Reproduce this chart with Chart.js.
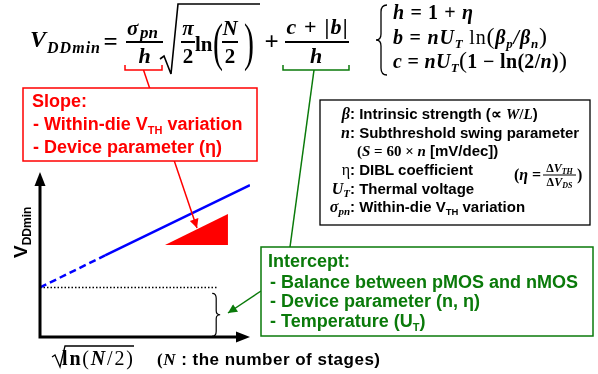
<!DOCTYPE html>
<html lang="en">
<head>
<meta charset="UTF-8">
<title>VDDmin vs sqrt(ln(N/2))</title>
<script src="https://cdn.jsdelivr.net/npm/chart.js"></script>
<style>
  body { margin: 0; background: #fff; }
  #wrap { position: relative; width: 598px; height: 374px; }
  #plot { position: absolute; left: 0; top: 0; }
  #notes { position: absolute; left: 0; top: 0; }
  .mi { font-family: "Liberation Serif", serif; font-weight: bold; font-style: italic; }
  .mr { font-family: "Liberation Serif", serif; font-weight: bold; font-style: normal; }
  .mn { font-family: "Liberation Serif", serif; font-weight: normal; font-style: normal; }
  .s  { font-family: "Liberation Sans", Arial, sans-serif; font-weight: bold; font-style: normal; }
</style>
</head>
<body>
<div id="wrap">
  <canvas id="plot" width="598" height="374"></canvas>

  <svg id="notes" width="598" height="374" xmlns="http://www.w3.org/2000/svg">
    <defs>
      <marker id="headR" viewBox="0 0 10 10" refX="10" refY="5" markerWidth="12" markerHeight="9" orient="auto" markerUnits="userSpaceOnUse">
        <path d="M0,0 L10,5 L0,10 z" fill="#ff0000"/>
      </marker>
      <marker id="headG" viewBox="0 0 10 10" refX="10" refY="5" markerWidth="12" markerHeight="9" orient="auto" markerUnits="userSpaceOnUse">
        <path d="M0,0 L10,5 L0,10 z" fill="#0a7a0a"/>
      </marker>
    </defs>

    <!-- main formula -->
    <text class="mi" x="30" y="47" font-size="24">V</text>
    <text class="mi" x="47" y="53" font-size="16" textLength="53">DDmin</text>
    <text class="mr" x="110.5" y="50" font-size="25" text-anchor="middle">=</text>
    <text class="mi" x="127" y="35" font-size="21">σ</text>
    <text class="mi" x="140" y="38" font-size="17">pn</text>
    <line x1="126" y1="42" x2="163" y2="42" stroke="#000" stroke-width="2"/>
    <text class="mi" x="144.5" y="63" font-size="22" text-anchor="middle">h</text>
    <path d="M160,59 L164,56 L171,74 L178,4 L260,4" fill="none" stroke="#000" stroke-width="1.6"/>
    <text class="mi" x="188" y="35" font-size="21" text-anchor="middle">π</text>
    <line x1="181" y1="42" x2="195" y2="42" stroke="#000" stroke-width="2"/>
    <text class="mr" x="188" y="63" font-size="21" text-anchor="middle">2</text>
    <text class="mr" x="195" y="51" font-size="21">ln</text>
    <text class="mn" font-size="30" transform="translate(213,60) scale(1,1.75)">(</text>
    <text class="mi" x="230" y="35" font-size="21" text-anchor="middle">N</text>
    <line x1="222" y1="42" x2="238" y2="42" stroke="#000" stroke-width="2"/>
    <text class="mr" x="230" y="63" font-size="21" text-anchor="middle">2</text>
    <text class="mn" font-size="30" transform="translate(244,60) scale(1,1.75)">)</text>
    <text class="mr" x="271.5" y="50" font-size="25" text-anchor="middle">+</text>
    <text class="mi" x="317" y="34" font-size="22" text-anchor="middle" textLength="61">c <tspan class="mr">+ |</tspan>b<tspan class="mr">|</tspan></text>
    <line x1="285" y1="42" x2="349" y2="42" stroke="#000" stroke-width="2"/>
    <text class="mi" x="316" y="63" font-size="22" text-anchor="middle">h</text>

    <!-- definitions of h, b, c -->
    <path d="M387,5 Q381,5 381,12 L381,34 Q381,40 376,40 Q381,40 381,46 L381,68 Q381,75 387,75" fill="none" stroke="#000" stroke-width="1.3"/>
    <text class="mi" x="393" y="19" font-size="20" textLength="80">h <tspan class="mr">= 1 +</tspan> η</text>
    <text class="mi" x="393" y="44" font-size="20" textLength="154">b <tspan class="mr">=</tspan> nU<tspan font-size="13" dy="4">T</tspan><tspan class="mn" dy="-4"> ln</tspan><tspan class="mn" font-size="24">(</tspan>β<tspan font-size="13" dy="4">p</tspan><tspan dy="-4">/β</tspan><tspan font-size="13" dy="4">n</tspan><tspan class="mn" font-size="24" dy="-4">)</tspan></text>
    <text class="mi" x="393" y="68" font-size="20" textLength="174">c <tspan class="mr">=</tspan> nU<tspan font-size="13" dy="4">T</tspan><tspan class="mn" font-size="24" dy="-4">(</tspan><tspan class="mr">1 − ln(2/</tspan>n<tspan class="mr">)</tspan><tspan class="mn" font-size="24">)</tspan></text>

    <!-- brackets and connectors -->
    <path d="M125,65 V70 H162 V65" fill="none" stroke="#ff0000" stroke-width="1.5"/>
    <line x1="143.5" y1="70" x2="197" y2="228" stroke="#ff0000" stroke-width="1.5" marker-end="url(#headR)"/>
    <path d="M283,65 V70 H349 V65" fill="none" stroke="#0a7a0a" stroke-width="1.5"/>
    <line x1="314" y1="70" x2="290" y2="247" stroke="#0a7a0a" stroke-width="1.5"/>
    <line x1="261" y1="291" x2="228" y2="313" stroke="#0a7a0a" stroke-width="1.5" marker-end="url(#headG)"/>

    <!-- slope box -->
    <rect x="23" y="88" width="234" height="73" fill="#fff" stroke="#ff0000" stroke-width="1.5"/>
    <text class="s" x="32" y="107" font-size="18" fill="#ff0000">Slope:</text>
    <text class="s" x="33" y="130" font-size="18" fill="#ff0000">- Within-die V<tspan font-size="11" dy="4">TH</tspan><tspan dy="-4"> variation</tspan></text>
    <text class="s" x="33" y="153" font-size="18" fill="#ff0000">- Device parameter (η)</text>

    <!-- symbol box -->
    <rect x="320" y="100" width="270" height="125" fill="#fff" stroke="#000" stroke-width="1.3"/>
    <text class="mi" x="350" y="119" font-size="16" text-anchor="end">β</text>
    <text class="s" x="350" y="119" font-size="15">: Intrinsic strength (<tspan class="mr">∝</tspan> <tspan class="mi">W</tspan><tspan class="mr">/</tspan><tspan class="mi">L</tspan>)</text>
    <text class="mi" x="350" y="138" font-size="16" text-anchor="end">n</text>
    <text class="s" x="350" y="138" font-size="15">: Subthreshold swing parameter</text>
    <text class="s" x="357" y="156" font-size="15"><tspan class="mr">(</tspan><tspan class="mi">S</tspan><tspan class="mr"> = 60 × </tspan><tspan class="mi">n</tspan> [mV/dec])</text>
    <text class="mn" x="350" y="175" font-size="16" text-anchor="end">η</text>
    <text class="s" x="350" y="175" font-size="15">: DIBL coefficient</text>
    <text class="mi" x="514" y="180" font-size="16"><tspan class="mr">(</tspan>η <tspan class="mr">=</tspan></text>
    <text class="mi" x="559.5" y="172" font-size="12" text-anchor="middle"><tspan class="mr">Δ</tspan>V<tspan font-size="8" dy="2">TH</tspan></text>
    <line x1="543" y1="175" x2="576" y2="175" stroke="#000" stroke-width="1"/>
    <text class="mi" x="559.5" y="186" font-size="12" text-anchor="middle"><tspan class="mr">Δ</tspan>V<tspan font-size="8" dy="2">DS</tspan></text>
    <text class="mr" x="577" y="180" font-size="16">)</text>
    <text class="mi" x="350" y="194" font-size="16" text-anchor="end">U<tspan font-size="11" dy="3">T</tspan></text>
    <text class="s" x="350" y="194" font-size="15">: Thermal voltage</text>
    <text class="mi" x="350" y="212" font-size="16" text-anchor="end">σ<tspan font-size="11" dy="3">pn</tspan></text>
    <text class="s" x="350" y="212" font-size="15">: Within-die V<tspan font-size="9.5" dy="3">TH</tspan><tspan dy="-3"> variation</tspan></text>

    <!-- intercept box -->
    <rect x="261" y="247" width="332" height="89" fill="#fff" stroke="#0a7a0a" stroke-width="1.5"/>
    <text class="s" x="268" y="267" font-size="18" fill="#0a7a0a">Intercept:</text>
    <text class="s" x="270" y="288" font-size="18" fill="#0a7a0a">- Balance between pMOS and nMOS</text>
    <text class="s" x="270" y="307" font-size="18" fill="#0a7a0a">- Device parameter (n, η)</text>
    <text class="s" x="270" y="327" font-size="18" fill="#0a7a0a">- Temperature (U<tspan font-size="11" dy="4">T</tspan><tspan dy="-4">)</tspan></text>

    <!-- axis labels -->
    <text class="s" font-size="19" transform="translate(27,258) rotate(-90)">V<tspan font-size="12" dy="4">DDmin</tspan></text>
    <path d="M52,357 L55,355 L60,367 L65,346 L134,346" fill="none" stroke="#000" stroke-width="1.3"/>
    <text class="mr" x="62" y="365" font-size="20" textLength="71">ln<tspan class="mn">(</tspan><tspan class="mi">N</tspan><tspan class="mn">/2)</tspan></text>
    <text class="s" x="157" y="365" font-size="17" textLength="223"><tspan class="mr">(</tspan><tspan class="mi">N</tspan> : the number of stages)</text>
  </svg>
</div>

<script>
  // plot in arbitrary units: x = sqrt(ln(N/2)), y = VDDmin, both 0..10
  const xRange = [0, 10];
  const yRange = [0, 10];

  // extrapolated part of the line (dashed) and the measured part (solid)
  const extrapX = [0, 3.1];
  const extrapY = [3.0, 4.95];
  const lineX = [3.1, 10];
  const lineY = [4.95, 9.2];

  // dotted intercept level
  const levelX = [0, 8.5];
  const levelY = [3.0, 3.0];

  // red slope triangle (hypotenuse)
  const slopeX = [5.95, 8.95];
  const slopeY = [5.58, 7.45];

  // curly brace marking the intercept
  const braceX = 8.2;
  const braceY = [0.05, 2.65];

  function pts(xs, ys) {
    return xs.map((x, i) => ({ x: x, y: ys[i] }));
  }

  // arrows for both axes and the brace
  const axesPlugin = {
    id: 'axes',
    afterDatasetsDraw(chart) {
      const { ctx, chartArea: a, scales } = chart;
      ctx.save();
      ctx.strokeStyle = '#000';
      ctx.fillStyle = '#000';
      ctx.lineWidth = 3;
      ctx.lineJoin = 'miter';
      ctx.beginPath();
      ctx.moveTo(a.left, a.top + 12);
      ctx.lineTo(a.left, a.bottom);
      ctx.lineTo(a.right - 12, a.bottom);
      ctx.stroke();

      ctx.beginPath();
      ctx.moveTo(a.left, a.top);
      ctx.lineTo(a.left - 5.5, a.top + 14);
      ctx.lineTo(a.left + 5.5, a.top + 14);
      ctx.closePath();
      ctx.fill();

      ctx.beginPath();
      ctx.moveTo(a.right, a.bottom);
      ctx.lineTo(a.right - 14, a.bottom - 5.5);
      ctx.lineTo(a.right - 14, a.bottom + 5.5);
      ctx.closePath();
      ctx.fill();

      const bx = scales.x.getPixelForValue(braceX);
      const top = scales.y.getPixelForValue(braceY[1]);
      const bot = scales.y.getPixelForValue(braceY[0]);
      const mid = (top + bot) / 2;
      ctx.lineWidth = 1.2;
      ctx.beginPath();
      ctx.moveTo(bx, top);
      ctx.quadraticCurveTo(bx + 4, top, bx + 4, top + 5);
      ctx.lineTo(bx + 4, mid - 4);
      ctx.quadraticCurveTo(bx + 4, mid, bx + 8, mid);
      ctx.quadraticCurveTo(bx + 4, mid, bx + 4, mid + 4);
      ctx.lineTo(bx + 4, bot - 5);
      ctx.quadraticCurveTo(bx + 4, bot, bx, bot);
      ctx.stroke();
      ctx.restore();
    }
  };

  new Chart(document.getElementById('plot'), {
    type: 'line',
    data: {
      datasets: [
        { data: pts(extrapX, extrapY), borderColor: '#0000ff', borderWidth: 2.5, borderDash: [7, 4] },
        { data: pts(lineX, lineY), borderColor: '#0000ff', borderWidth: 2.5 },
        { data: pts(levelX, levelY), borderColor: '#000', borderWidth: 1.5, borderDash: [1.5, 2] },
        { data: pts(slopeX, slopeY), borderColor: '#ff0000', borderWidth: 0, backgroundColor: '#ff0000', fill: { value: slopeY[0] } }
      ]
    },
    options: {
      responsive: false,
      animation: false,
      devicePixelRatio: 1,
      layout: { padding: { left: 40, right: 348, top: 172, bottom: 37 } },
      elements: { point: { radius: 0 }, line: { tension: 0 } },
      scales: {
        x: { type: 'linear', min: xRange[0], max: xRange[1], display: false },
        y: { type: 'linear', min: yRange[0], max: yRange[1], display: false }
      },
      plugins: { legend: { display: false }, tooltip: { enabled: false } }
    },
    plugins: [axesPlugin]
  });
</script>
</body>
</html>
